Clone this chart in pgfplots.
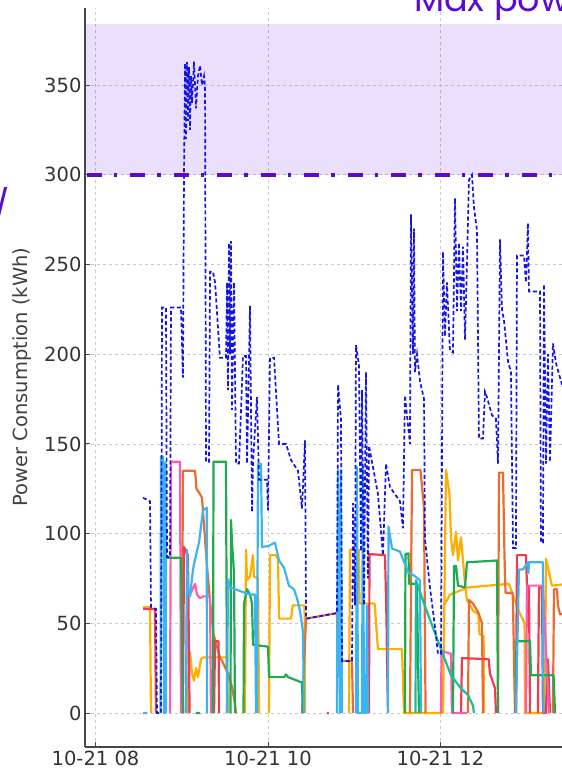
\documentclass[border=0pt]{standalone}
\usepackage{pgfplots}
\pgfplotsset{compat=1.18}
\usepackage{fontspec}
\setmainfont{DejaVu Sans}
\newfontfamily\pop{Poppins}
\definecolor{camber}{RGB}{255,174,0}
\definecolor{corange}{RGB}{234,108,46}
\definecolor{cred}{RGB}{240,60,80}
\definecolor{cpink}{RGB}{255,90,180}
\definecolor{cgreen}{RGB}{30,170,80}
\definecolor{clblue}{RGB}{60,180,240}
\definecolor{cteal}{RGB}{26,188,156}
\definecolor{ctotal}{RGB}{20,20,230}
\definecolor{climit}{RGB}{90,10,210}
\definecolor{cshade}{RGB}{115,40,240}
\definecolor{cgrid}{RGB}{200,200,200}
\definecolor{cspine}{RGB}{70,70,70}
\begin{document}
\begin{tikzpicture}
\path[use as bounding box] (0pt,0pt) rectangle (562pt,772pt);
\clip (0pt,0pt) rectangle (562pt,772pt);
\begin{axis}[
  at={(85pt,25pt)}, anchor=south west,
  scale only axis, width=477pt, height=739pt,
  xmin=7.878, xmax=13.409, ymin=-18.95, ymax=392.98,
  axis x line*=bottom, axis y line*=left,
  axis line style={cspine, line width=1.6pt},
  xtick={8,10,12}, xticklabels={10-21 08,10-21 10,10-21 12},
  ytick={0,50,100,150,200,250,300,350},
  tick align=inside, major tick length=5pt,
  tick style={cspine, line width=1pt},
  ticklabel style={font=\fontsize{19.5}{20}\selectfont, text=black!80},
  /pgf/number format/assume math mode=true,
  grid=major,
  major grid style={cgrid, line width=0.8pt, dash pattern=on 3pt off 3pt},
  unbounded coords=jump,
  clip=true,
]
% shaded region
\addplot[draw=none, fill=cshade, fill opacity=0.15] coordinates {(7.878,300) (13.5,300) (13.5,384) (7.878,384)} -- cycle;

% amber
\addplot[camber, line width=2.2pt, line join=round] coordinates {
(8.551,59)(8.632,59)(8.643,0)(8.65,nan)
(9.072,0)(9.078,20)(9.096,34)(9.119,22)(9.142,18)(9.165,25)(9.188,20)(9.223,30)(9.246,31)(9.525,31)(9.536,0)(9.54,nan)
(9.733,0)(9.745,91)(9.757,74)(9.791,76)(9.826,88)(9.838,76)(9.884,75)(9.896,0)(9.9,nan)
(10.012,0)(10.023,88)(10.088,88)(10.116,86)(10.128,52.6)(10.267,52.6)(10.286,60)(10.424,60)(10.429,0)(10.43,nan)
(10.939,0)(10.951,91)(11.055,91)(11.061,61)(11.236,61)(11.275,35.6)(11.554,35.6)(11.577,0)(12.029,0)(12.064,135.5)(12.087,128)(12.104,122)(12.122,97.6)(12.145,88)(12.180,101)(12.203,85)(12.238,98)(12.284,72)(12.307,63)(12.377,57)(12.440,55)(12.452,44)(12.500,43)(12.504,0)(12.51,nan)
(12.029,0)(12.041,60)(12.110,66)(12.319,70)(12.794,72)(12.916,56)(12.975,50)(12.980,0)(13.212,0)(13.223,86)(13.293,71)(13.409,71.6)
};
% orange
\addplot[corange, line width=2.2pt, line join=round] coordinates {
(8.999,0)(9.014,135)(9.154,135)(9.171,125)(9.212,122)(9.235,120)(9.289,84)(9.328,62)(9.368,44)(9.443,31)(9.478,28)(9.536,22)(9.583,14.6)(9.617,5)(9.629,0)(9.63,nan)
(10.394,0)(10.441,52.6)(10.800,55.7)(10.812,29)(10.974,29)(10.986,0)(10.99,nan)
(11.646,0)(11.670,135.5)(11.768,135.5)(11.809,114.5)(11.827,0)(11.83,nan)
(12.319,0)(12.330,63)(12.377,61)(12.440,56)(12.481,50)(12.493,0)(12.5,nan)
(12.667,0)(12.678,134)(12.725,134)(12.742,88)(12.754,67)(12.835,67)(12.841,61)(12.864,0)(12.87,nan)
(13.304,0)(13.316,69)(13.351,69)(13.362,60)(13.386,55)(13.409,55)
};
% red
\addplot[cred, line width=2.2pt, line join=round] coordinates {
(8.551,58)(8.690,58)(8.701,0)(8.71,nan)
(9.014,0)(9.026,92.6)(9.049,90)(9.072,88)(9.091,0)(9.1,nan)
(9.374,0)(9.386,40)(9.427,40)(9.432,0)(9.44,nan)
(10.684,0)(10.707,0)(10.71,nan)
(11.171,0)(11.177,88.6)(11.357,88)(11.374,52)(11.380,30)(11.391,0)(11.4,nan)
(12.238,0)(12.249,30.6)(12.559,30)(12.574,22)(12.632,13.7)(12.643,0)(12.65,nan)
(12.875,0)(12.887,88)(12.991,88)(13.003,71)(13.026,70)(13.038,0)(13.04,nan)
(13.130,0)(13.142,70)(13.177,70)(13.188,0)(13.223,0)(13.246,30)(13.270,0)
};
% pink
\addplot[cpink, line width=2.2pt, line join=round] coordinates {
(8.864,0)(8.875,140)(8.980,140)(8.991,0)(8.995,nan)
(9.049,0)(9.061,68)(9.096,66)(9.154,72)(9.177,66)(9.212,64)(9.246,65)(9.328,65)(9.339,0)(9.34,nan)
(12.006,0)(12.012,34.6)(12.122,33)(12.133,0)(12.307,0)(12.31,nan)
(12.991,0)(13.003,71)(13.188,71)(13.258,0)
};
% green
\addplot[cgreen, line width=2.2pt, line join=round] coordinates {
(8.812,0)(8.817,86.5)(8.991,86.5)(9.014,0)(9.02,nan)
(9.165,0)(9.212,0)(9.22,nan)
(9.362,0)(9.368,140)(9.513,140)(9.525,0)(9.53,nan)
(9.565,0)(9.571,107.6)(9.583,95)(9.606,78)(9.617,0)(9.62,nan)
(9.716,0)(9.722,61)(9.757,69)(9.791,66)(9.815,61)(9.826,38)(10.000,37)(10.012,20)(10.186,20)(10.209,21.5)(10.232,20)(10.394,17)(10.406,0)(10.41,nan)
(11.588,0)(11.594,88.6)(11.629,89)(11.635,72)(11.728,72)(11.739,30)(11.751,0)(11.76,nan)
(12.145,0)(12.157,82)(12.180,82)(12.203,71)(12.284,70)(12.307,84)(12.655,85)(12.667,0)(12.67,nan)
(12.875,0)(12.881,40)(13.038,40)(13.049,21)(13.311,21)(13.328,0)
};
% light blue
\addplot[clblue, line width=2.2pt, line join=round] coordinates {
(8.551,0)(8.597,0)(8.6,nan)
(8.754,0)(8.759,143)(8.783,143)(8.794,0)(8.806,0)(8.812,140)(8.817,0)(8.82,nan)
(9.049,0)(9.061,91)(9.072,70)(9.096,65)(9.130,80)(9.165,88)(9.200,95)(9.246,113)(9.289,114.5)(9.293,0)(9.3,nan)
(9.525,0)(9.536,74.6)(9.559,70)(9.733,67)(9.791,66)(9.849,66)(9.861,0)(9.865,nan)
(9.872,0)(9.884,139)(9.919,139)(9.930,92.6)(10.000,93)(10.081,95)(10.128,85)(10.186,81)(10.243,71)(10.301,69)(10.336,64)(10.371,57)(10.406,45)(10.417,0)(10.42,nan)
(10.800,0)(10.812,135.5)(10.835,0)(10.846,135)(10.858,0)(10.86,nan)
(11.020,0)(11.032,137)(11.043,0)(11.090,0)(11.101,137)(11.113,0)(11.136,0)(11.148,60)(11.159,0)(11.16,nan)
(11.391,0)(11.397,104)(11.438,91.6)(11.530,90)(11.554,87)(11.632,78)(11.681,77)(11.762,74)(11.774,0)(11.78,nan)
(12.875,0)(12.910,80)(12.957,80)(13.014,84)(13.020,78)(13.026,84)(13.188,84)(13.194,0)
};
% teal
\addplot[cteal, line width=2.2pt, line join=round] coordinates {
(11.710,0)(11.716,74)(11.809,61)(11.925,46)(12.026,33)(12.122,21)(12.238,13.7)(12.319,10)(12.377,4)(12.388,0)
};
% total
\addplot[ctotal, line width=1.7pt, dash pattern=on 4pt off 2.5pt] coordinates {
(8.551,120)(8.632,118)(8.643,59)(8.701,58)(8.713,0)(8.759,0)(8.771,226)(8.817,226)(8.829,87)(8.864,87)(8.875,226)(8.991,226)(9.014,187)(9.026,300)(9.038,362)(9.049,320)(9.061,363)(9.072,330)(9.084,360)(9.096,325)(9.107,355)(9.119,340)(9.142,363)(9.165,337)(9.188,355)(9.212,361)(9.235,350)(9.258,355)(9.270,349)(9.281,140)(9.316,140)(9.328,246)(9.362,246)(9.386,240)(9.443,198)(9.513,198)(9.525,240)(9.536,180)(9.548,262)(9.559,200)(9.571,263)(9.583,169)(9.606,240)(9.629,139)(9.664,139)(9.710,199)(9.745,199)(9.757,139)(9.791,227)(9.815,112)(9.826,140)(9.872,176)(9.896,130)(9.930,130)(9.988,130)(10.000,113)(10.023,198)(10.070,198)(10.128,150)(10.209,150)(10.267,141)(10.348,135)(10.394,114)(10.429,152)(10.441,52.6)(10.800,55.7)(10.812,183)(10.835,170)(10.846,164)(10.858,29)(10.974,29)(10.986,117)(11.009,60)(11.020,205)(11.055,194)(11.078,90)(11.090,180)(11.113,60)(11.136,190)(11.159,75)(11.171,149)(11.275,122)(11.333,88)(11.368,139)(11.414,126)(11.530,118)(11.565,103)(11.588,177)(11.646,150)(11.658,278)(11.681,200)(11.693,270)(11.704,190)(11.728,200)(11.762,185)(11.809,175)(11.820,97)(11.878,70)(11.936,48)(11.971,33)(12.006,33)(12.029,257)(12.052,210)(12.075,240)(12.110,202)(12.145,201)(12.168,287)(12.191,224)(12.214,262)(12.238,224)(12.261,260)(12.284,208)(12.307,250)(12.330,297)(12.365,300)(12.388,282)(12.423,269)(12.446,153)(12.493,153)(12.516,179)(12.539,176)(12.597,166)(12.643,164)(12.667,139)(12.690,264)(12.713,225)(12.736,219)(12.783,196)(12.817,190)(12.841,92)(12.875,92)(12.887,255)(12.968,255)(12.991,240)(13.014,273)(13.026,235)(13.154,235)(13.165,95)(13.188,95)(13.200,239)(13.223,139)(13.246,200)(13.270,140)(13.304,206)(13.339,195)(13.409,183)
};
% limit line
\addplot[climit, line width=3.5pt, dash pattern=on 15pt off 12pt on 3.5pt off 13pt] coordinates {(7.9,300) (13.5,300)};
\end{axis}
\node[rotate=90, font=\fontsize{19.5}{20}\selectfont, text=black!75] at (22pt,395pt) {Power Consumption (kWh)};
\node[anchor=base west, inner sep=0pt, font=\pop\fontsize{35}{35}\selectfont, text=climit] at (414pt,760pt) {Max power limit};
\node[anchor=base east, inner sep=0pt, font=\pop\fontsize{34}{34}\selectfont, text=climit] at (10pt,552pt) {/};
\end{tikzpicture}
\end{document}
